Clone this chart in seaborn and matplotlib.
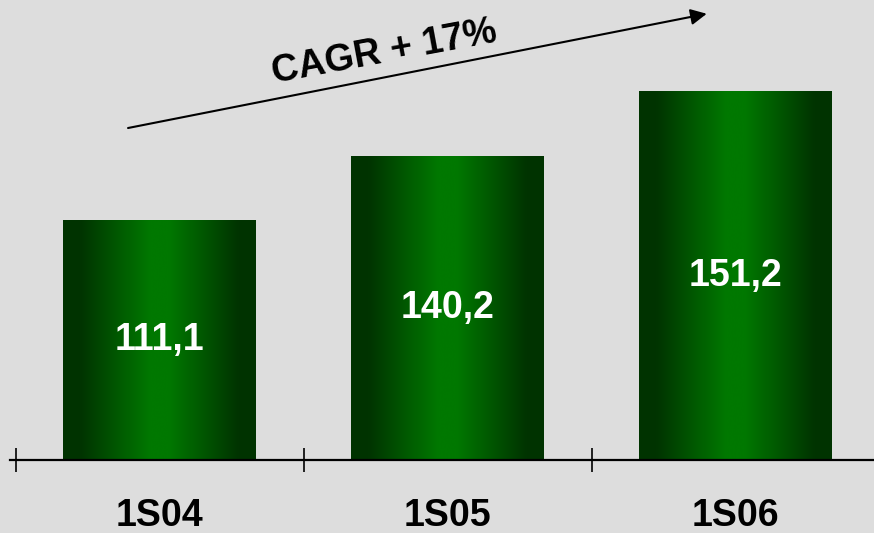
import numpy as np
import pandas as pd
import matplotlib
matplotlib.use("Agg")
import matplotlib.pyplot as plt
from matplotlib.colors import LinearSegmentedColormap
from matplotlib.ticker import FixedLocator
import seaborn as sns

# ---- data ----
categories = ["1S04", "1S05", "1S06"]
value_labels = ["111,1", "140,2", "151,2"]
bar_heights = [111.1, 140.9, 171.1]   # heights as drawn in the picture
annotation_text = "CAGR + 17%"

sns.set_theme(style="white")
plt.rcParams['font.family'] = ['Liberation Sans', 'DejaVu Sans']

BG = "#DDDDDD"
fig = plt.figure(figsize=(8.74, 5.33), dpi=100, facecolor=BG)
ax = fig.add_axes([10/874, 73/533, 864/874, 460/533])
ax.set_facecolor(BG)

df = pd.DataFrame({"cat": categories, "h": bar_heights})
sns.barplot(data=df, x="cat", y="h", ax=ax, width=0.67, color="#006600",
            edgecolor="none", linewidth=0)

XL = (-0.52, 2.481)
ax.set_xlim(*XL)
ax.set_ylim(0, 213.8)

cmap = LinearSegmentedColormap.from_list(
    "g", [(0, "#003300"), (0.09, "#003400"), (0.45, "#007800"),
          (0.55, "#007800"), (0.91, "#003400"), (1, "#003300")])
grad = np.linspace(0, 1, 256).reshape(1, -1)
for p, lab in zip(ax.patches, value_labels):
    x0, y0 = p.get_x(), p.get_y()
    w, h = p.get_width(), p.get_height()
    p.set_alpha(0)
    ax.imshow(grad, cmap=cmap, aspect="auto", extent=[x0, x0 + w, y0, y0 + h],
              zorder=2, interpolation="bicubic")
    ax.text(x0 + w / 2, h / 2, lab, ha="center", va="center", color="white",
            fontsize=27, fontweight="bold", zorder=3)
ax.set_xlim(*XL)
ax.set_ylim(0, 213.8)

for s in ["top", "right", "left"]:
    ax.spines[s].set_visible(False)
ax.spines["bottom"].set_color("black")
ax.spines["bottom"].set_linewidth(1.6)
ax.spines["bottom"].set_zorder(4)

ax.set_yticks([])
ax.set_xlabel("")
ax.set_ylabel("")
ax.xaxis.set_minor_locator(FixedLocator([-0.5, 0.5, 1.5]))
ax.tick_params(axis="x", which="minor", direction="inout", length=17, width=1.2,
               color="black", bottom=True)
ax.tick_params(axis="x", which="major", length=0, pad=27, labelsize=27)
for t in ax.get_xticklabels():
    t.set_fontweight("bold")
    t.set_color("black")

ax.annotate("", xy=(1.900, 207.4), xytext=(-0.110, 154.3),
            arrowprops=dict(arrowstyle="-|>", color="black", lw=1.5,
                            mutation_scale=24, shrinkA=0, shrinkB=0),
            annotation_clip=False)
ax.text(0.779, 189.6, annotation_text, rotation=10.5, ha="center", va="center",
        fontsize=27, fontweight="bold", color="black", rotation_mode="anchor")

fig.savefig("out.png", dpi=100, facecolor=BG)
